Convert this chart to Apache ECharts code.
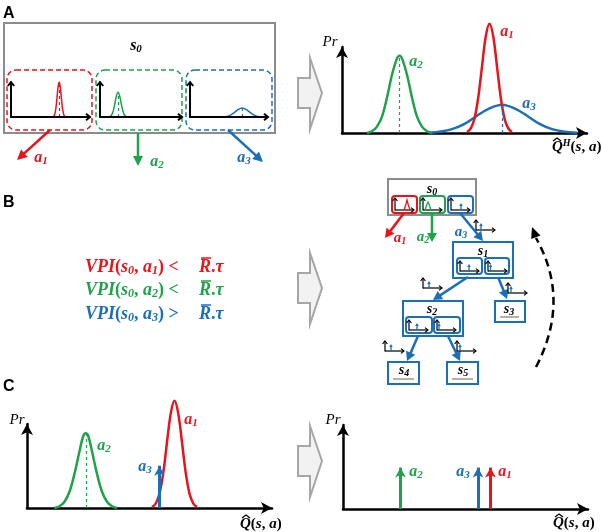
<!DOCTYPE html>
<html><head><meta charset="utf-8">
<script src="https://cdn.jsdelivr.net/npm/echarts@6/dist/echarts.min.js"></script>
<style>html,body{margin:0;padding:0;background:#fff}#c{width:602px;height:532px}</style>
</head><body><div id="c"></div>
<script>
// ---------- DATA (x = value, y = probability, arbitrary units) ----------
// Panel A, small per-action distributions inside s0
const miniRed   = [[53.5,1],[55,6],[56.5,20],[58,49],[59.5,84],[61,100],[62.5,84],[64,49],[65.5,20],[67,6],[68.5,1]];
const miniGreen = [[12,1],[14,5],[16,16],[18,37],[20,60],[22,71],[24,60],[26,37],[28,16],[30,5],[32,1]];
const miniBlue  = [[42,0.3],[47,1.6],[52,5.5],[57,13],[62,22],[67,26],[72,22],[77,13],[82,5.5],[87,1.6],[92,0.3]];
const miniMeans = [[61,100],[22,71],[67,26]];
// Panel A right: Q^H(s,a) distributions
const qhGreen = [[10,0],[12,2],[14,7],[16,18],[18,39],[20,64],[22,82],[23,85],[24,82],[26,64],[28,39],[30,18],[32,7],[34,2],[36,0]];
const qhRed   = [[50,1],[51.5,5],[53,16],[54.5,39],[56,73],[57.5,106],[59,120],[60.5,106],[62,73],[63.5,39],[65,16],[66.5,5],[68,1]];
const qhBlue  = [[35,0.3],[39,1.4],[44,4.2],[49,10],[54,19],[59,27],[64,31],[69,27],[74,19],[79,10],[84,4.2],[89,1.4],[94,0.3]];
const qhMeans = [[59,120],[23,85],[64,31]];            // a1, a2, a3
// Panel C left: Q(s,a) after VPI update
const qGreen = [[11,0],[13,2],[15,7],[17,18],[19,38],[21,63],[22.5,80],[23.5,83],[24.5,80],[26,63],[28,38],[30,18],[32,7],[34,2],[36,0]];
const qRed   = [[50,1],[51.5,5],[53,16],[54.5,39],[56,73],[57.5,105],[59,119],[60.5,105],[62,73],[63.5,39],[65,16],[66.5,5],[68,1]];
const qMeans = [[59,119],[23.5,83]];                  // a1, a2
const qCollapsed = [[53,47]];                          // a3 (point mass)
// Panel C right: all actions collapsed to point values
const qFinal = [[59,46],[23,46],[54,46]];              // a1, a2, a3
const actionNames = ['1','2','3'];

// ---------- STYLE ----------
const RED='#e8141c', GREEN='#1fa24b', BLUE='#1b6fb7', GRAY='#8c8c8c', BLACK='#000';
const COLORS=[RED,GREEN,BLUE];
const SERIF="'Liberation Serif','DejaVu Serif',serif";

function rich(size){
  const sub=Math.round(size*0.68);
  return {
    m:{fontFamily:SERIF,fontStyle:'italic',fontWeight:'bold',fontSize:size,lineHeight:size+2},
    r:{fontFamily:SERIF,fontStyle:'italic',fontWeight:'normal',fontSize:size,lineHeight:size+2},
    u:{fontFamily:SERIF,fontWeight:'bold',fontSize:size,lineHeight:size+2},
    s:{fontFamily:SERIF,fontStyle:'italic',fontWeight:'bold',fontSize:sub,lineHeight:Math.round(size*0.5),verticalAlign:'bottom'},
    p:{fontFamily:SERIF,fontStyle:'italic',fontWeight:'bold',fontSize:sub,lineHeight:Math.round(size*0.5),verticalAlign:'top'}
  };
}
function T(x,y,text,color,size,align){
  return {type:'text',x:x,y:y,silent:true,z:50,style:{text:text,rich:rich(size),fill:color,align:align||'center',verticalAlign:'middle',font:'italic bold '+size+'px '+SERIF}};
}
function PANEL(x,y,t){return {type:'text',x:x,y:y,silent:true,style:{text:t,font:'bold 16px "Liberation Sans", Arial, sans-serif',fill:'#000',verticalAlign:'middle'}};}
function L(x1,y1,x2,y2,c,w,dash){return {type:'line',silent:true,z:40,shape:{x1:x1,y1:y1,x2:x2,y2:y2},style:{stroke:c,lineWidth:w,lineDash:dash||null}};}
function PL(pts,c,w){return {type:'polyline',silent:true,z:40,shape:{points:pts},style:{stroke:c,lineWidth:w,fill:null}};}
function PG(pts,fill,stroke,w){return {type:'polygon',silent:true,z:40,shape:{points:pts},style:{fill:fill,stroke:stroke||null,lineWidth:w||0}};}
function R(x,y,w,h,c,lw,r,dash,fill){return {type:'rect',silent:true,z:40,shape:{x:x,y:y,width:w,height:h,r:r||0},style:{stroke:c,lineWidth:lw,fill:fill||null,lineDash:dash||null}};}
function ARROW(x1,y1,x2,y2,c,lw,hl,hw){
  const dx=x2-x1,dy=y2-y1,len=Math.hypot(dx,dy),ux=dx/len,uy=dy/len,px=-uy,py=ux;
  const bx=x2-ux*hl,by=y2-uy*hl;
  return [L(x1,y1,bx+ux,by+uy,c,lw),PG([[x2,y2],[bx+px*hw,by+py*hw],[bx-px*hw,by-py*hw]],c)];
}
function MINIAX(x0,y0,w,h,c,lw,hs){
  hs=hs||4;
  return [L(x0,y0+lw/2,x0,y0-h,c,lw),PL([[x0-hs*0.8,y0-h+hs],[x0,y0-h],[x0+hs*0.8,y0-h+hs]],c,lw),
          L(x0,y0,x0+w,y0,c,lw),PL([[x0+w-hs,y0-hs*0.8],[x0+w,y0],[x0+w-hs,y0+hs*0.8]],c,lw)];
}
function TINYAX(x0,y0,ax){ // small axes with a small blue point-mass arrow
  return MINIAX(x0,y0,19,10,BLACK,1.2,3).concat(ARROW(ax,y0,ax,y0-7,BLUE,1.3,3,1.8));
}
function BLOCK(cy){
  return PG([[298,cy-15],[310,cy-15],[310,cy-35],[322,cy],[310,cy+36],[310,cy+15],[298,cy+15]],'#f2f2f2','#a6a6a6',2);
}
function HAT(x,y){return PL([[x,y+3],[x+4,y],[x+8,y+3]],BLACK,1.3);}

// ---------- SERIES ----------
function curve(gi,data,color,mean,lw){
  return {type:'line',xAxisIndex:gi,yAxisIndex:gi,data:data,smooth:0.35,symbol:'none',clip:false,silent:true,
    lineStyle:{color:color,width:lw},
    markLine:{silent:true,symbol:['none','none'],label:{show:false},lineStyle:{color:color,width:1.2,type:[3,3]},
      data:[[{coord:[mean[0],0]},{coord:mean}]]}};
}
function spike(gi,pt,color){
  return {type:'line',xAxisIndex:gi,yAxisIndex:gi,data:[[pt[0],0]],symbol:'none',silent:true,lineStyle:{width:0},
    markLine:{silent:true,symbol:['none','arrow'],symbolSize:[8,10],label:{show:false},lineStyle:{color:color,width:3,type:'solid'},
      data:[[{coord:[pt[0],0]},{coord:pt}]]}};
}
const series=[
  curve(0,miniRed,RED,miniMeans[0],1.5),
  curve(1,miniGreen,GREEN,miniMeans[1],1.5),
  curve(2,miniBlue,BLUE,miniMeans[2],1.5),
  curve(3,qhBlue,BLUE,qhMeans[2],2.5),
  curve(3,qhGreen,GREEN,qhMeans[1],2.5),
  curve(3,qhRed,RED,qhMeans[0],2.5),
  curve(4,qGreen,GREEN,qMeans[1],2.5),
  curve(4,qRed,RED,qMeans[0],2.5),
  spike(4,qCollapsed[0],BLUE),
  spike(5,qFinal[1],GREEN),
  spike(5,qFinal[2],BLUE),
  spike(5,qFinal[0],RED)
];

const grids=[
  {left:11,top:82,width:79,height:35},
  {left:100,top:82,width:82,height:35},
  {left:190,top:82,width:78,height:35},
  {left:342,top:47,width:245,height:86},
  {left:27,top:424,width:245,height:84},
  {left:343,top:425,width:245,height:84}
];
const ranges=[[100,100],[100,100],[100,100],[98,94.5],[98,93.3],[98,93.3]];
function ax(gi,max,show){
  return {gridIndex:gi,type:'value',min:0,max:max,
    axisLine:{show:show,onZero:true,symbol:['none','arrow'],symbolSize:[9,11],lineStyle:{color:BLACK,width:2.5}},
    axisTick:{show:false},axisLabel:{show:false},splitLine:{show:false}};
}
const xAxis=ranges.map((r,i)=>ax(i,r[0],i>=3));
const yAxis=ranges.map((r,i)=>ax(i,r[1],i>=3));

// ---------- GRAPHICS (diagram parts) ----------
let G=[];
const sub=(b,n)=>'{m|'+b+'}{s|'+n+'}';
// Panel A
G.push(PANEL(3,14,'A'));
G.push(R(4,23,271,110,GRAY,2));
G.push(T(136,46,sub('s','0'),BLACK,16));
G.push(R(7,70,85,60,RED,1.5,9,[5,3]),R(96,70,86,60,GREEN,1.5,9,[5,3]),R(186,70,86,60,BLUE,1.5,9,[5,3]));
G=G.concat(MINIAX(11,117,79,35,BLACK,2),MINIAX(100,117,82,35,BLACK,2),MINIAX(190,117,78,35,BLACK,2));
G=G.concat(ARROW(50,130,17,160,RED,2.5,10,5),ARROW(138,133,138,166,GREEN,2.5,10,5),ARROW(228,130,263,162,BLUE,2.5,10,5));
G.push(T(41,158,sub('a',actionNames[0]),RED,16),T(157,162,sub('a',actionNames[1]),GREEN,16),T(244,158,sub('a',actionNames[2]),BLUE,16));
G.push(BLOCK(93));
G.push(T(330,42,'{r|Pr}',BLACK,15));
G.push(T(552,147,'{m|Q}{p|H}{u|(}{m|s}{u|, }{m|a}{u|)}',BLACK,15,'left'),HAT(553,138));
G.push(T(507,32,sub('a',actionNames[0]),RED,16),T(416,62,sub('a',actionNames[1]),GREEN,16),T(529,104,sub('a',actionNames[2]),BLUE,16));

// Panel B
G.push(PANEL(3,203,'B'));
const vpiY=[267,290,314], vpiOp=['<','<','>'];
for(let i=0;i<3;i++){
  G.push(T(85,vpiY[i],'{m|VPI}{u|(}{m|s}{s|0}{u|, }{m|a}{s|'+actionNames[i]+'}{u|)} {u|'+vpiOp[i]+'}',COLORS[i],18,'left'));
  G.push(T(199,vpiY[i],'{m|R}{u|.}{m|τ}',COLORS[i],18,'left'));
  G.push(L(201,vpiY[i]-9,211,vpiY[i]-9,COLORS[i],1.5));
}
G.push(BLOCK(288));
// tree
G.push(R(388,179,88,36,GRAY,2));
G.push(T(432,189,sub('s','0'),BLACK,14));
G.push(R(392,196,25,17,RED,2,3),R(420,196,25,17,GREEN,2,3),R(448,196,25,17,BLUE,2,3));
G=G.concat(MINIAX(395,210,19,12,BLACK,1.2,3),MINIAX(423,210,19,12,BLACK,1.2,3),MINIAX(451,210,19,12,BLACK,1.2,3));
G.push(PL([[404,210],[406,204],[407,200],[408,204],[410,210]],RED,1.3));
G.push(PL([[425,210],[427,204],[428,202],[429,204],[431,210]],GREEN,1.3));
G=G.concat(ARROW(461,210,461,203,BLUE,1.3,3,1.8));
G=G.concat(ARROW(404,213,385,238,RED,2.5,9,5),ARROW(432,213,432,242,GREEN,2.5,9,5),ARROW(460,213,483,241,BLUE,2.5,9,5));
G.push(T(400,238,sub('a','1'),RED,15),T(423,237,sub('a','2'),GREEN,15),T(461,232,sub('a','3'),BLUE,15));
G=G.concat(TINYAX(476,230,481));
// s1
G.push(R(453,242,60,36,BLUE,2));
G.push(T(483,251,sub('s','1'),BLACK,14));
G.push(R(457,258,25,16,BLUE,2,3),R(485,258,24,16,BLUE,2,3));
G=G.concat(TINYAX(460,271,469),TINYAX(488,271,490.5));
G=G.concat(ARROW(468,277,433,300,BLUE,2.5,9,5),ARROW(498,277,507,299,BLUE,2.5,9,5));
G=G.concat(TINYAX(423,288,429),TINYAX(508,293,511));
// s3
G.push(R(495,301,30,21,BLUE,2));
G.push(T(509,309,sub('s','3'),BLACK,14),L(500,317,519,317,'#8b7d6b',1.2));
// s2
G.push(R(403,301,60,35,BLUE,2));
G.push(T(432,309,sub('s','2'),BLACK,14));
G.push(R(406,317,26,16,BLUE,2,3),R(434,317,26,16,BLUE,2,3));
G=G.concat(TINYAX(409,330,417),TINYAX(437,330,439));
G=G.concat(ARROW(418,336,407,361,BLUE,2.5,9,5),ARROW(448,336,460,361,BLUE,2.5,9,5));
G=G.concat(TINYAX(385,351,391),TINYAX(457,351,460));
// s4, s5
G.push(R(388,362,31,22,BLUE,2),R(447,362,31,22,BLUE,2));
G.push(T(404,370,sub('s','4'),BLACK,14),L(393,379,414,379,'#8b7d6b',1.2));
G.push(T(463,370,sub('s','5'),BLACK,14),L(452,379,473,379,'#8b7d6b',1.2));
// back-up dashed arc
G.push({type:'bezierCurve',silent:true,z:40,shape:{x1:536,y1:367,x2:536,y2:238,cpx1:571,cpy1:300},style:{stroke:BLACK,lineWidth:2.5,lineDash:[8,5],fill:null}});
G=G.concat(ARROW(536.5,239,532,227,BLACK,2.5,11,5).slice(1));

// Panel C
G.push(PANEL(3,387,'C'));
G.push(T(17,420,'{r|Pr}',BLACK,15));
G.push(T(240,524,'{m|Q}{u|(}{m|s}{u|, }{m|a}{u|)}',BLACK,15,'left'),HAT(242,515));
G.push(T(191,420,sub('a','1'),RED,16),T(104,446,sub('a','2'),GREEN,16),T(145,467,sub('a','3'),BLUE,16));
G.push(BLOCK(461));
G.push(T(333,420,'{r|Pr}',BLACK,15));
G.push(T(553,523,'{m|Q}{u|(}{m|s}{u|, }{m|a}{u|)}',BLACK,15,'left'),HAT(555,514));
G.push(T(416,472,sub('a','2'),GREEN,16),T(463,472,sub('a','3'),BLUE,16),T(505,472,sub('a','1'),RED,16));

const chart=echarts.init(document.getElementById('c'),null,{renderer:'canvas'});
chart.setOption({
  animation:false,backgroundColor:'#fff',
  grid:grids,xAxis:xAxis,yAxis:yAxis,series:series,graphic:{elements:G}
});
</script></body></html>
